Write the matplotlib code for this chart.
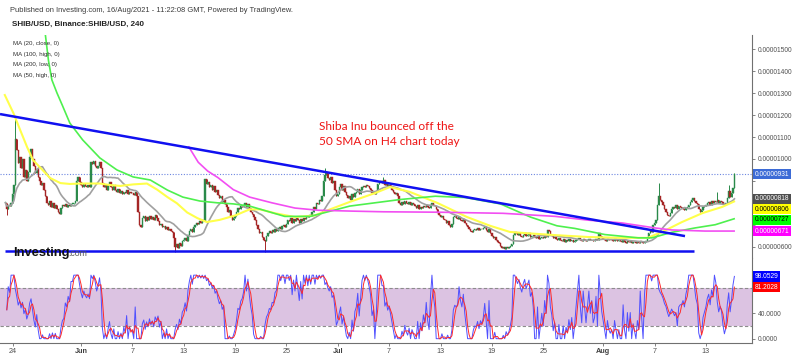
import numpy as np
import pandas as pd
import matplotlib
matplotlib.use("Agg")
import matplotlib.pyplot as plt

# ---------------- DATA (prices in units of 1e-8 USD) ----------------
start = "2021-05-23 04:00"
closes = [
    800, 770, 790, 785, 800,                 # May 23
    840, 880, 1090, 1040, 980, 1010,         # May 24
    960, 1000, 920, 950, 900, 940,
    1010, 1045, 1000, 970, 935, 955,
    920, 900, 880, 890, 860, 830,
    800, 790, 810, 780, 800, 775,
    790, 770, 760, 750, 775, 790,
    785, 795, 780, 790, 785, 795,
    795, 800, 810, 900, 920, 895,
    880, 870, 885, 875, 870, 880,            # Jun 1
    870, 985, 975, 990, 970, 960,
    970, 985, 960, 890, 870, 880,
    860, 880, 895, 870, 860, 880,
    860, 850, 865, 845, 855, 840,
    850, 845, 860, 840, 850, 845,
    845, 835, 850, 830, 760, 700,            # Jun 7
    690, 730, 740, 715, 735, 720,
    740, 725, 735, 720, 745, 730,
    715, 700, 705, 690, 695, 680,
    690, 675, 680, 670, 665, 640,
    600, 610, 595, 615, 605, 625,
    630, 640, 625, 655, 670, 680,            # Jun 13
    665, 690, 700, 710, 705, 715,
    710, 720, 715, 910, 885, 895,
    870, 880, 860, 875, 850, 860,
    835, 820, 830, 805, 815, 795,
    780, 760, 765, 740, 720, 730,
    740, 760, 775, 770, 785, 780,            # Jun 19
    790, 800, 780, 795, 775, 760,
    750, 735, 720, 700, 680, 660,
    665, 645, 630, 625, 650, 660,
    670, 660, 675, 665, 680, 670,
    685, 690, 680, 695, 700, 690,
    705, 720, 715, 730, 710, 725,            # Jun 25
    715, 730, 720, 710, 725, 715,
    730, 725, 740, 735, 745, 740,
    760, 780, 770, 800, 795, 815,
    810, 830, 900, 925, 935, 915,
    905, 920, 890, 900, 860, 830,
    840, 870, 885, 860, 875, 850,            # Jul 1
    835, 820, 830, 815, 840, 825,
    845, 850, 865, 840, 860, 870,
    875, 870, 880, 875, 868, 860,
    845, 850, 840, 855, 885, 895,
    900, 890, 905, 880, 885, 875,
    880, 870, 860, 850, 840, 845,            # Jul 7
    830, 800, 790, 805, 795, 810,
    800, 795, 805, 790, 800, 795,
    785, 775, 790, 770, 780, 775,
    785, 780, 790, 780, 775, 790,
    800, 790, 785, 770, 755, 745,
    735, 740, 725, 720, 710, 715,            # Jul 13
    700, 690, 705, 735, 740, 730,
    725, 735, 720, 715, 725, 710,
    700, 690, 680, 670, 665, 675,
    680, 678, 684, 676, 682, 679,
    685, 690, 675, 665, 680, 660,
    650, 640, 645, 630, 620, 615,            # Jul 19
    605, 595, 600, 590, 600, 595,
    600, 605, 610, 655, 665, 660,
    655, 660, 650, 645, 655, 660,
    650, 655, 660, 645, 650, 655,
    645, 640, 650, 635, 640, 645,
    640, 650, 645, 675, 670, 655,            # Jul 25
    650, 640, 645, 635, 630, 640,
    630, 625, 635, 620, 630, 625,
    635, 625, 630, 620, 625, 630,
    635, 640, 630, 625, 635, 630,
    625, 630, 635, 628, 632, 625,
    630, 635, 628, 660, 650, 640,
    635, 630, 625, 635, 630, 628,            # Aug 1
    630, 625, 635, 630, 625, 630,
    625, 620, 628, 622, 618, 625,
    620, 625, 618, 622, 620, 616,
    620, 618, 625, 620, 615, 622,
    625, 640, 660, 670, 665, 700,
    710, 720, 790, 830, 815, 805,            # Aug 7
    790, 770, 760, 745, 740, 755,
    770, 780, 775, 790, 770, 785,
    780, 775, 770, 765, 775, 780,
    790, 805, 815, 820, 810, 800,
    795, 770, 760, 765, 780, 785,
    790, 798, 802, 792, 806, 800,            # Aug 13
    810, 804, 812, 798, 806, 802,
    795, 790, 800, 822, 855, 828,
    845, 866, 931,                           # Aug 16
]
wick_highs = {"2021-05-24 08:00": 1190, "2021-06-29 12:00": 960,
              "2021-07-06 08:00": 918, "2021-08-07 12:00": 890,
              "2021-08-14 08:00": 850, "2021-08-15 16:00": 880,
              "2021-08-16 08:00": 933.8}
wick_lows = {"2021-05-23 08:00": 745, "2021-06-12 00:00": 575,
             "2021-06-22 12:00": 575}

# Moving averages: (days since 24 May, price)
ma50_high_days = [-0.9, 0.1, 0.9, 1.7, 2.4, 3.5, 4.4, 5.6, 6.7, 7.9, 9.1, 10.2, 11.4, 12.6,
                  14.1, 15.7, 16.9, 18.1, 19.2, 20.4, 21.6, 22.7, 24.2, 26.0, 27.7, 28.9,
                  30.7, 33.0, 35.3, 37.1, 39.4, 42.4, 44.1, 46.4, 49.6, 53.1, 55.8, 58.1,
                  60.5, 63.6, 67.2, 71.2, 74.2, 75.9, 78.2, 80.6, 82.9, 84.3]
ma50_high_vals = [1292, 1210, 1132, 1055, 995, 950, 913, 890, 886, 888, 888, 888, 881, 877,
                  884, 888, 860, 826, 798, 756, 730, 712, 722, 742, 770, 770,
                  752, 735, 742, 770, 804, 845, 872, 850, 800, 735, 695, 667,
                  660, 652, 644, 640, 640, 667, 712, 753, 781, 806]
ma100_high_days = [3.8, 4.2, 4.6, 5.2, 5.8, 6.7, 8.2, 10.2, 12.2, 14.1, 16.1, 18.1, 19.9,
                   21.9, 23.9, 25.8, 27.7, 31.8, 34.8, 39.4, 45.3, 49.4, 52.9, 57.0, 60.5,
                   63.6, 65.7, 69.2, 73.1, 74.7, 77.0, 79.7, 82.1, 84.3]
ma100_high_vals = [1580, 1450, 1361, 1301, 1247, 1164, 1087, 1005, 950, 918, 904, 858, 826,
                   808, 800, 795, 785, 738, 738, 785, 815, 830, 824, 795, 735,
                   695, 683, 655, 640, 640, 665, 685, 700, 727]
ma200_low_days = [20.6, 21.7, 22.8, 24.0, 25.8, 27.7, 30.3, 33.0, 35.7, 39.7, 43.3, 49.9,
                  57.3, 63.4, 67.2, 71.2, 75.1, 77.0, 80.9, 84.3]
ma200_low_vals = [1055, 985, 945, 915, 860, 826, 800, 776, 766, 762, 759, 757,
                  752, 738, 721, 708, 685, 676, 671, 671]

# Trend lines drawn on the chart
resist_dates = ["2021-05-22 13:00", "2021-08-10 13:30"]
resist_prices = [1205, 648]
support_dates = ["2021-05-23 03:00", "2021-08-11 14:30"]
support_prices = [578, 578]

tick_dates = ["2021-05-24", "2021-06-01", "2021-06-07", "2021-06-13", "2021-06-19",
              "2021-06-25", "2021-07-01", "2021-07-07", "2021-07-13", "2021-07-19",
              "2021-07-25", "2021-08-01", "2021-08-07", "2021-08-13"]
tick_labels = ["24", "Jun", "7", "13", "19", "25", "Jul", "7", "13", "19", "25", "Aug", "7", "13"]
price_ticks = [600, 700, 800, 900, 1000, 1100, 1200, 1300, 1400, 1500]
stoch_ticks = [0, 40, 80]

# ---------------- helpers ----------------
T0 = pd.Timestamp("2021-05-24")
def days(ts):
    return (pd.to_datetime(ts) - T0) / pd.Timedelta("1D")

FONT = ["Liberation Sans", "DejaVu Sans"]
plt.rcParams["font.family"] = FONT

W, H = 800, 357
fig = plt.figure(figsize=(W / 100, H / 100), dpi=100)
def fx(px): return px / W
def fy(py): return 1 - py / H

ax = fig.add_axes([0, fy(258), fx(752), (258 - 35) / H])
ax2 = fig.add_axes([0, fy(343), fx(752), (343 - 258) / H], sharex=ax)

dates = pd.date_range(start, periods=len(closes), freq="4h")
x = np.asarray(days(dates), dtype=float)
c = np.array(closes, dtype=float)
o = np.concatenate([[c[0]], c[:-1]])
hi = np.maximum(o, c)
lo = np.minimum(o, c)
for k, v in wick_highs.items():
    hi[dates.get_loc(pd.Timestamp(k))] = v
for k, v in wick_lows.items():
    lo[dates.get_loc(pd.Timestamp(k))] = v

up = c >= o
UPC, DNC = "#2a8a4a", "#a52525"
cols = np.where(up, UPC, DNC)
ax.vlines(x, lo, hi, colors=cols, lw=0.7, zorder=3)
ax.bar(x, np.maximum(np.abs(c - o), 2), bottom=np.minimum(o, c), width=0.15,
       color=cols, edgecolor=cols, linewidth=0.3, zorder=3)

# MAs
ma20 = pd.Series(c).rolling(20, min_periods=1).mean().to_numpy()
ax.plot(x, ma20, color="#a0a0a0", lw=1.2, zorder=4)
ax.plot(ma50_high_days, ma50_high_vals, color="#ffff4a", lw=1.5, zorder=4)
ax.plot(ma100_high_days, ma100_high_vals, color="#4ef04e", lw=1.2, zorder=4)
ax.plot(ma200_low_days, ma200_low_vals, color="#f24ef2", lw=1.2, zorder=4)

# trend lines
ax.plot(days(resist_dates), resist_prices, color="#1010f0", lw=1.8, zorder=5,
        solid_capstyle="butt")
ax.plot(days(support_dates), support_prices, color="#1010f0", lw=1.8, zorder=5,
        solid_capstyle="butt")

# last price dotted line
ax.axhline(c[-1], color="#6d86e0", lw=0.8, ls=(0, (1, 1.5)), zorder=2)

xmin, xmax = (0 - 12.5) / 8.56, (752 - 12.5) / 8.56
ax.set_xlim(xmin, xmax)
ax.set_ylim(548, 1566)

for a in (ax, ax2):
    for s in ("top", "left", "bottom"):
        a.spines[s].set_visible(False)
    a.spines["right"].set_color("#707070")
    a.spines["right"].set_linewidth(0.8)
    a.yaxis.tick_right()
    a.tick_params(axis="y", length=2.5, width=0.6, color="#707070", labelsize=4.8,
                  labelcolor="#505050", pad=2)
ax2.spines["bottom"].set_visible(True)
ax2.spines["bottom"].set_color("#707070")
ax2.spines["bottom"].set_linewidth(0.8)

ax.set_yticks(price_ticks)
ax.set_yticklabels([f"0.{v:08d}" for v in price_ticks])
ax.tick_params(axis="x", bottom=False, labelbottom=False)

# stochastic (14,1,3)
cs, hs, ls_ = pd.Series(c), pd.Series(hi), pd.Series(lo)
ll = ls_.rolling(14, min_periods=1).min()
hh = hs.rolling(14, min_periods=1).max()
kline = (100 * (cs - ll) / (hh - ll).replace(0, np.nan)).to_numpy()
dline = pd.Series(kline).rolling(3, min_periods=1).mean().to_numpy()
ax2.axhspan(20, 80, color="#dcc3e2", lw=0, zorder=0)
for lev in (20, 80):
    ax2.axhline(lev, color="#8c8c8c", lw=0.8, ls=(0, (3, 2)), zorder=1)
ax2.plot(x, kline, color="#5050ff", lw=0.7, zorder=3)
ax2.plot(x, dline, color="#ff2a2a", lw=0.7, zorder=3)
ax2.set_ylim(-6.8, 127)
ax2.set_yticks(stoch_ticks)
ax2.set_yticklabels([f"{v:.4f}" for v in stoch_ticks])

tx = days(tick_dates)
ax2.set_xticks(np.asarray(tx, dtype=float))
ax2.set_xticklabels(tick_labels)
ax2.tick_params(axis="x", length=2.5, width=0.6, color="#707070", labelsize=5.2,
                labelcolor="#505050", pad=1.0)
for lab in ax2.get_xticklabels():
    if lab.get_text().isalpha():
        lab.set_fontweight("bold")
        lab.set_color("#404040")

# ---------------- price labels on the right axis ----------------
def right_labels(axis, items, fmt):
    items = sorted(items, key=lambda t: -t[0])
    prev = None
    placed = []
    for val, fc, tc in items:
        ypix = axis.transData.transform((0, val))[1]
        if prev is not None and prev - ypix < 10.5:
            ypix = prev - 10.5
        prev = ypix
        placed.append(ypix)
        fig.text(fx(754.5), ypix / H, fmt(val), fontsize=4.8, color=tc,
                 va="center", ha="left",
                 bbox=dict(boxstyle="square,pad=0.25", fc=fc, ec="none"))
    # hide axis tick labels that sit under a value box
    for tick, lab in zip(axis.get_yticks(), axis.get_yticklabels()):
        ty = axis.transData.transform((0, tick))[1]
        if any(abs(ty - p) < 8.5 for p in placed):
            lab.set_visible(False)

right_labels(ax, [(c[-1], "#3c6bd6", "white"), (ma20[-1], "#4f4f4f", "white"),
                  (ma50_high_vals[-1], "#ffff00", "black"),
                  (ma100_high_vals[-1], "#00ff00", "black"),
                  (ma200_low_vals[-1], "#ff00ff", "white")],
             lambda v: f"0.{int(round(v)):08d}")
right_labels(ax2, [(kline[-1], "#0000ff", "white"), (dline[-1], "#ff0000", "white")],
             lambda v: f"{v:.4f}")

# ---------------- texts ----------------
fig.text(fx(10), fy(11), "Published on Investing.com, 16/Aug/2021 - 11:22:08 GMT, Powered by TradingView.",
         fontsize=5.45, color="#3a3a3a", va="center", ha="left")
fig.text(fx(12), fy(24), "SHIB/USD, Binance:SHIB/USD, 240", fontsize=5.8, fontweight="bold",
         color="#222222", va="center", ha="left")
for i, t in enumerate(["MA (20, close, 0)", "MA (100, high, 0)", "MA (200, low, 0)", "MA (50, high, 0)"]):
    fig.text(fx(13), fy(43.5 + 10.6 * i), t, fontsize=4.4, color="#303030", va="center", ha="left")

fig.text(fx(319), fy(134), "Shiba Inu bounced off the\n50 SMA on H4 chart today", fontsize=8.6,
         color="#ee1515", family=["Lato", "DejaVu Sans"], va="center", ha="left", linespacing=1.4)

fig.text(fx(13), fy(256), "Investing", fontsize=9.3, fontweight="bold", color="#111111",
         va="baseline", ha="left", zorder=10)
fig.text(fx(68), fy(256), ".com", fontsize=6.3, color="#555555", va="baseline", ha="left",
         zorder=10)

fig.savefig("out.png", dpi=100)
